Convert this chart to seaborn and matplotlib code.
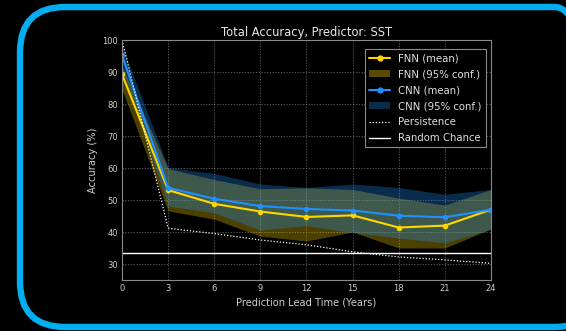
import numpy as np
import pandas as pd
import matplotlib
matplotlib.use("Agg")
import matplotlib.pyplot as plt
import seaborn as sns
from matplotlib.patches import FancyBboxPatch, Patch
from matplotlib.lines import Line2D

# Lead times (years)
lead_years = [0, 3, 6, 9, 12, 15, 18, 21, 24]

# FNN accuracy (%) and 95% confidence bounds
fnn_mean = [89.3, 53.1, 48.8, 46.4, 44.7, 45.2, 41.4, 42.0, 47.0]
fnn_low = [84.5, 46.6, 44.0, 38.7, 37.2, 40.0, 35.0, 35.0, 41.0]
fnn_high = [92.0, 59.8, 56.4, 53.5, 53.8, 53.3, 50.6, 48.4, 53.3]

# CNN accuracy (%) and 95% confidence bounds
cnn_mean = [95.2, 53.8, 50.4, 48.1, 47.2, 46.7, 45.1, 44.6, 47.0]
cnn_low = [91.0, 48.1, 46.0, 40.6, 42.0, 39.8, 38.1, 36.6, 40.8]
cnn_high = [98.3, 60.2, 58.3, 55.0, 53.9, 55.0, 53.9, 51.8, 53.3]

# Persistence baseline and random chance
persistence = [100.0, 41.2, 39.5, 37.5, 36.0, 33.8, 32.2, 31.3, 30.2]
random_chance = 33.3

x_ticks = [0, 3, 6, 9, 12, 15, 18, 21, 24]
y_ticks = [30, 40, 50, 60, 70, 80, 90, 100]

FNN_COLOR = "#FFD700"
CNN_COLOR = "#1E90FF"
TEXT = "#CFCFCF"
SPINE = "#8A8A8A"

sns.set_theme(style="dark", rc={
    "figure.facecolor": "black",
    "axes.facecolor": "black",
    "axes.edgecolor": SPINE,
    "axes.labelcolor": TEXT,
    "text.color": TEXT,
    "xtick.color": TEXT,
    "ytick.color": TEXT,
    "grid.color": "#7A7A7A",
})
plt.rcParams["font.family"] = ["DejaVu Sans"]

df = pd.DataFrame({
    "lead": lead_years * 2,
    "acc": fnn_mean + cnn_mean,
    "model": ["FNN"] * len(lead_years) + ["CNN"] * len(lead_years),
})

fig = plt.figure(figsize=(5.66, 3.31), dpi=100)
ax = fig.add_axes([122 / 566, 1 - 280 / 331, (491 - 122) / 566, (280 - 40) / 331])

ax.fill_between(lead_years, fnn_low, fnn_high, color=FNN_COLOR, alpha=0.3, linewidth=0)
ax.fill_between(lead_years, cnn_low, cnn_high, color=CNN_COLOR, alpha=0.3, linewidth=0)

sns.lineplot(data=df, x="lead", y="acc", hue="model",
             palette={"FNN": FNN_COLOR, "CNN": CNN_COLOR},
             marker="o", markersize=4, markeredgewidth=0, linewidth=1.5,
             legend=False, ax=ax)

ax.plot(lead_years, persistence, color="white", linestyle=(0, (1, 1.5)), linewidth=0.9)
ax.axhline(random_chance, color="white", linewidth=1.0)

ax.set_xlim(0, 24)
ax.set_ylim(25, 100)
ax.set_xticks(x_ticks)
ax.set_yticks(y_ticks)
ax.tick_params(axis="both", labelsize=6, length=0, pad=3)
ax.grid(True, linestyle=(0, (2, 2)), linewidth=0.5, color="#6E6E6E")
for s in ax.spines.values():
    s.set_color(SPINE)
    s.set_linewidth(0.8)

ax.set_title("Total Accuracy, Predictor: SST", fontsize=8.3, color="#E6E6E6", pad=3)
ax.set_xlabel("Prediction Lead Time (Years)", fontsize=7.1, labelpad=3)
ax.set_ylabel("Accuracy (%)", fontsize=7.1, labelpad=3)

handles = [
    Line2D([], [], color=FNN_COLOR, marker="o", markersize=3.5, linewidth=1.5),
    Patch(facecolor=FNN_COLOR, alpha=0.35, edgecolor="none"),
    Line2D([], [], color=CNN_COLOR, marker="o", markersize=3.5, linewidth=1.5),
    Patch(facecolor=CNN_COLOR, alpha=0.3, edgecolor="none"),
    Line2D([], [], color="white", linestyle=(0, (1, 1.5)), linewidth=0.9),
    Line2D([], [], color="white", linewidth=1.0),
]
labels = ["FNN (mean)", "FNN (95% conf.)", "CNN (mean)", "CNN (95% conf.)",
          "Persistence", "Random Chance"]
leg = ax.legend(handles, labels, loc="upper right",
                bbox_to_anchor=(1 - 5 / 369, 1 - 9 / 240), borderaxespad=0,
                fontsize=7.25, frameon=True,
                facecolor="black", edgecolor=SPINE, framealpha=1.0,
                handlelength=2.1, handletextpad=0.8, labelspacing=0.6,
                borderpad=0.4, fancybox=False)
leg.get_frame().set_linewidth(0.8)
for t in leg.get_texts():
    t.set_color("#E0E0E0")

# Rounded frame around the panel
frame = FancyBboxPatch((20 / 566, 1 - 327 / 331), (600 - 20) / 566, (327 - 7) / 331,
                       boxstyle="round,pad=0,rounding_size=0.08",
                       transform=fig.transFigure, facecolor="none",
                       edgecolor="#02AEEF", linewidth=4.6, clip_on=False,
                       mutation_aspect=566 / 331)
fig.patches.append(frame)

fig.savefig("out.png", dpi=100, facecolor="black")
